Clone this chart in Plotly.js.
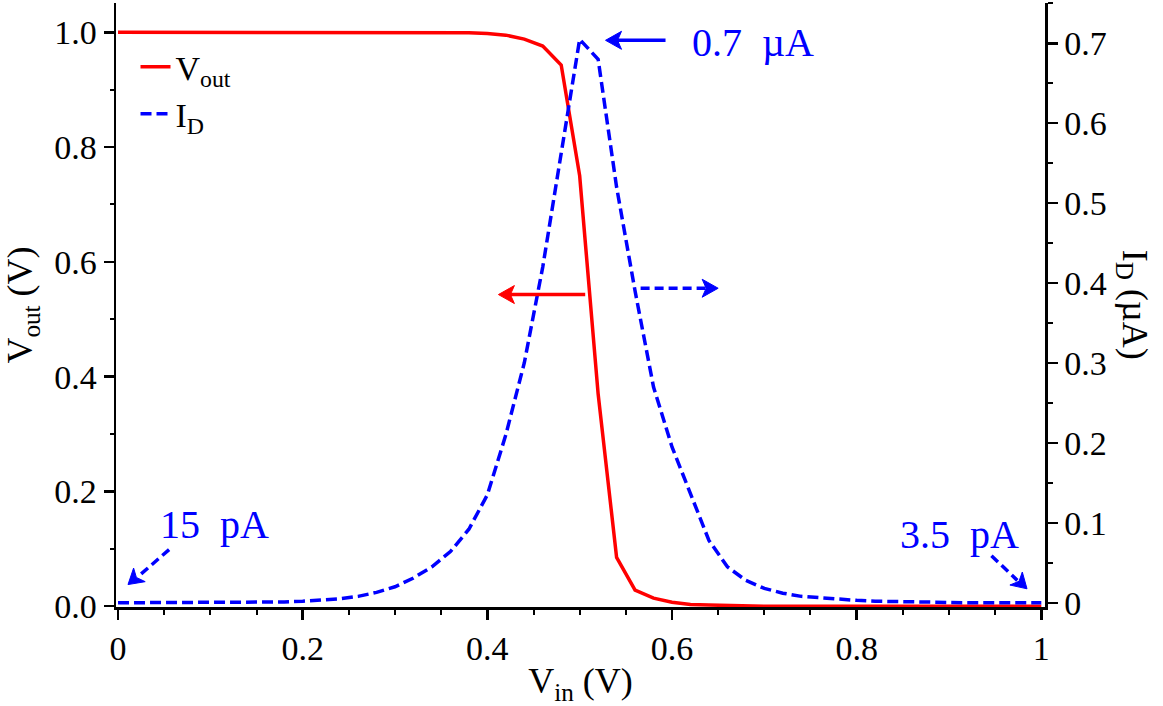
<!DOCTYPE html>
<html>
<head>
<meta charset="utf-8">
<script src="https://cdn.plot.ly/plotly-3.0.1.min.js"></script>
<style>html,body{margin:0;padding:0;background:#fff;}#chart{width:1163px;height:706px;}</style>
</head>
<body>
<div id="chart"></div>
<script>
// Input voltage (V)
const vin = [0.00,0.02,0.04,0.06,0.08,0.10,0.12,0.14,0.16,0.18,
             0.20,0.22,0.24,0.26,0.28,0.30,0.32,0.34,0.36,0.38,
             0.40,0.42,0.44,0.46,0.48,0.50,0.52,0.54,0.56,0.58,
             0.60,0.62,0.64,0.66,0.68,0.70,0.72,0.74,0.76,0.78,
             0.80,0.82,0.84,0.86,0.88,0.90,0.92,0.94,0.96,0.98,1.00];
// Output voltage (V)
const vout = [1,1,1,1,1,1,1,1,1,1,
              1,1,1,1,1,1,1,1,1.0,0.999,
              0.998,0.995,0.988,0.976,0.943,0.75,0.37,0.085,0.028,0.014,
              0.007,0.003,0.002,0.001,0,0,0,0,0,0,
              0,0,0,0,0,0,0,0,0,0,0];
// Drain current (uA)
const idCur = [0,0,0,0,0,0,0,0,0,0.001,
               0.002,0.003,0.005,0.008,0.013,0.020,0.031,0.045,0.064,0.092,
               0.135,0.21,0.30,0.42,0.56,0.705,0.68,0.52,0.39,0.27,
               0.195,0.135,0.078,0.045,0.028,0.018,0.012,0.008,0.006,0.004,
               0.003,0.002,0.0015,0.001,0,0,0,0,0,0,0];

const FONT = "'Liberation Serif', 'Times New Roman', serif";
const BLUE = "#0000ff";
const RED = "#ff0000";

const traces = [
  {x: vin, y: vout, type: 'scatter', mode: 'lines', name: 'V<sub>out</sub>',
   line: {color: RED, width: 3.5}, yaxis: 'y'},
  {x: vin, y: idCur, type: 'scatter', mode: 'lines', name: 'I<sub>D</sub>',
   line: {color: BLUE, width: 3.5, dash: '11px,5px'}, yaxis: 'y2'}
];

const tickFont = {family: FONT, size: 34, color: '#000'};
const annFont = {family: FONT, size: 40, color: BLUE};

// arrowhead helper (pixel-sized path anchored at the arrow tip)
function head(xa, ya, path, color) {
  return {type: 'path', xref: 'x', yref: 'y', xsizemode: 'pixel', ysizemode: 'pixel',
          xanchor: xa, yanchor: ya, path: path,
          fillcolor: color, line: {color: color, width: 1}};
}

const layout = {
  width: 1163, height: 706,
  margin: {l: 116, r: 118, t: 3, b: 99},
  paper_bgcolor: '#fff', plot_bgcolor: '#fff',
  font: {family: FONT, color: '#000'},
  showlegend: true,
  legend: {x: 0.021, y: 0.942, xanchor: 'left', yanchor: 'top',
           font: {family: FONT, size: 34, color: '#000'},
           bgcolor: 'rgba(0,0,0,0)', tracegroupgap: 0},
  xaxis: {range: [-0.0022, 1.004], dtick: 0.2, tick0: 0,
          ticks: 'outside', ticklen: 10, tickwidth: 2.5, tickcolor: '#000',
          minor: {dtick: 0.05, tick0: 0, ticks: 'outside', ticklen: 5, tickwidth: 2, tickcolor: '#000'},
          showline: true, linewidth: 2.5, linecolor: '#000',
          showgrid: false, zeroline: false, tickfont: tickFont,
          title: {text: 'V<sub>in</sub> (V)', font: {family: FONT, size: 36, color: '#000'}, standoff: 12}},
  yaxis: {range: [-0.0014, 1.051], dtick: 0.2, tick0: 0, tickformat: '.1f',
          ticks: 'outside', ticklen: 10, tickwidth: 2.5, tickcolor: '#000',
          minor: {dtick: 0.1, tick0: 0, ticks: 'outside', ticklen: 4, tickwidth: 2, tickcolor: '#000'},
          showline: true, linewidth: 2.5, linecolor: '#000',
          showgrid: false, zeroline: false, tickfont: tickFont,
          title: {text: 'V<sub>out</sub> (V)', font: {family: FONT, size: 36, color: '#000'}, standoff: 12}},
  yaxis2: {overlaying: 'y', side: 'right', range: [-0.0053, 0.7504], dtick: 0.1, tick0: 0,
          ticks: 'outside', ticklen: 10, tickwidth: 2.5, tickcolor: '#000',
          minor: {dtick: 0.05, tick0: 0, ticks: 'outside', ticklen: 5, tickwidth: 2, tickcolor: '#000'},
          showline: true, linewidth: 2.5, linecolor: '#000',
          showgrid: false, zeroline: false, tickfont: tickFont},
  shapes: [
    // red arrow (points to left axis)
    {type: 'line', xref: 'x', yref: 'y', x0: 0.506, y0: 0.543, x1: 0.422, y1: 0.543,
     line: {color: RED, width: 3.5}},
    head(0.412, 0.543, 'M0,0 L16,9 L12,0 L16,-9 Z', RED),
    // blue dashed arrow (points to right axis)
    {type: 'line', xref: 'x', yref: 'y', x0: 0.566, y0: 0.554, x1: 0.638, y1: 0.554,
     line: {color: BLUE, width: 3.5, dash: '9px,5px'}},
    head(0.650, 0.554, 'M0,0 L-16,9 L-12,0 L-16,-9 Z', BLUE),
    // 0.7 uA arrow
    {type: 'line', xref: 'x', yref: 'y', x0: 0.593, y0: 0.986, x1: 0.538, y1: 0.986,
     line: {color: BLUE, width: 3.5}},
    head(0.528, 0.986, 'M0,0 L16,9 L12,0 L16,-9 Z', BLUE),
    // 15 pA dashed arrow
    {type: 'line', xref: 'x', yref: 'y', x0: 0.0553, y0: 0.0986, x1: 0.022, y1: 0.052,
     line: {color: BLUE, width: 3.5, dash: '9px,5px'}},
    head(0.0108, 0.0377, 'M0,0 L17.2,2.9 L8.4,7.1 L5.6,16.5 Z', BLUE),
    // 3.5 pA dashed arrow
    {type: 'line', xref: 'x', yref: 'y', x0: 0.946, y0: 0.088, x1: 0.974, y1: 0.045,
     line: {color: BLUE, width: 3.5, dash: '9px,5px'}},
    head(0.9845, 0.0303, 'M0,0 L-4.7,16.8 L-8.0,7.5 L-17.1,3.8 Z', BLUE)
  ],
  annotations: [
    {xref: 'paper', yref: 'paper', x: 1.095, y: 0.5, text: 'I<sub>D</sub> (µA)', textangle: 90,
     showarrow: false, font: {family: FONT, size: 36, color: '#000'}, xanchor: 'center', yanchor: 'middle'},
    {xref: 'x', yref: 'y', x: 0.6875, y: 0.982, text: '0.7\u00a0\u00a0µA', showarrow: false,
     font: annFont, xanchor: 'center', yanchor: 'middle'},
    {xref: 'x', yref: 'y', x: 0.105, y: 0.142, text: '15\u00a0\u00a0pA', showarrow: false,
     font: annFont, xanchor: 'center', yanchor: 'middle'},
    {xref: 'x', yref: 'y', x: 0.911, y: 0.125, text: '3.5\u00a0\u00a0pA', showarrow: false,
     font: annFont, xanchor: 'center', yanchor: 'middle'}
  ]
};

Plotly.newPlot('chart', traces, layout, {displayModeBar: false, staticPlot: true});
</script>
</body>
</html>
